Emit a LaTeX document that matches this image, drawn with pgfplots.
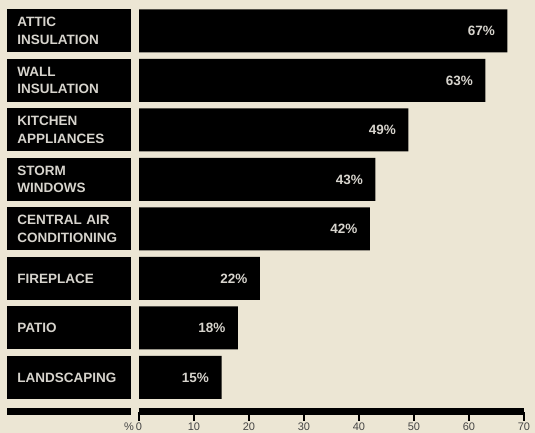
\documentclass[border=0pt]{standalone}
\usepackage{pgfplots}
\pgfplotsset{compat=1.18}
\usepackage{fontspec}
\setmainfont{Liberation Sans}
\definecolor{cream}{RGB}{236,230,212}
\definecolor{labtext}{RGB}{215,212,205}
\definecolor{tickgray}{RGB}{70,70,70}
\begin{document}
\begin{tikzpicture}
\path[use as bounding box, fill=cream] (0,0) rectangle (535pt,433pt);
\begin{axis}[
  at={(139pt,21.5pt)}, anchor=south west,
  scale only axis,
  width=385pt, height=411.5pt,
  xbar, bar width=43pt,
  xmin=0, xmax=70,
  ymin=-0.626, ymax=7.687,
  y dir=reverse,
  axis x line*=bottom,
  axis y line*=left,
  x axis line style={line width=7pt, -, black, shorten <=-0.5pt},
  y axis line style={draw=none},
  xtick={0,10,...,70},
  xtick style={line width=2.5pt, black},
  tick align=outside,
  major tick length=9pt,
  xticklabel style={font=\fontsize{11}{12}\selectfont, text=tickgray, inner ysep=0pt, yshift=-2pt},
  /pgf/number format/assume math mode=true,
  ytick={0,...,7},
  ytick style={draw=none},
  yticklabels={{ATTIC\\INSULATION},{WALL\\INSULATION},{KITCHEN\\APPLIANCES},{STORM\\WINDOWS},{CENTRAL AIR\\CONDITIONING},{FIREPLACE},{PATIO},{LANDSCAPING}},
  yticklabel style={fill=black, text=labtext, font=\bfseries\fontsize{13.5}{17.5}\selectfont,
    text width=104pt, inner xsep=10pt, inner ysep=0pt, minimum height=43pt, align=left,
    anchor=east, xshift=1.5pt},
  nodes near coords={\pgfmathprintnumber{\pgfplotspointmeta}\%},
  every node near coord/.append style={anchor=east, xshift=-9pt, text=labtext, font=\bfseries\fontsize{13.5}{14}\selectfont},
  point meta=x,
  clip=false,
]
\addplot[fill=black, draw=none] coordinates {
  (67,0) (63,1) (49,2) (43,3) (42,4) (22,5) (18,6) (15,7)
};
\node[anchor=north east, font=\fontsize{11}{12}\selectfont, text=tickgray, inner sep=0pt] at (rel axis cs:0,0) [xshift=-5pt, yshift=-11.5pt] {\%};
\end{axis}
\fill[black] (7pt,18pt) rectangle (131pt,25pt);
\end{tikzpicture}
\end{document}
